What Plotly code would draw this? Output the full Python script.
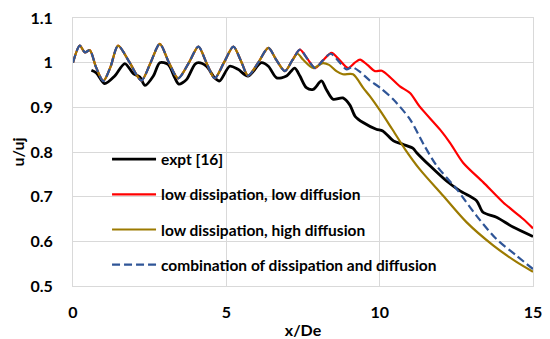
import plotly.graph_objects as go

# shared simulation part (all three simulations coincide up to x~7.3)
x_shared = [0, 0.22, 0.39, 0.55, 0.75, 0.99, 1.22, 1.47, 1.85, 2.23, 2.53, 2.83, 3.13, 3.43,
            3.78, 4.09, 4.35, 4.62, 4.92, 5.23, 5.47, 5.71, 6.04, 6.37, 6.64, 6.91, 7.15]
y_shared = [1.0, 1.038, 1.023, 1.028, 0.99, 0.959, 0.99, 1.038, 1.0, 0.96, 1.0, 1.042, 1.0, 0.965,
            1.0, 1.036, 1.0, 0.965, 1.0, 1.036, 1.005, 0.971, 1.0, 1.033, 1.005, 0.981, 1.005]

x_red_tail = [7.40, 7.65, 7.89, 8.15, 8.43, 8.7, 8.97, 9.19, 9.36, 9.6, 9.85, 10.07, 10.3, 10.66,
              10.99, 11.3, 11.97, 12.3, 12.72, 13.38, 14.03, 14.68, 15.0]
y_red_tail = [1.029, 1.008, 0.988, 1.005, 1.022, 1.005, 0.988, 1.0, 1.007, 0.995, 0.981, 0.982, 0.97, 0.947,
              0.932, 0.902, 0.85, 0.82, 0.776, 0.732, 0.687, 0.650, 0.629]

x_gold_tail = [7.32, 7.5, 7.83, 8.15, 8.35, 8.59, 8.8, 9.13, 9.47, 9.68, 10.01, 10.4, 10.83,
               11.31, 12.07, 12.83, 13.7, 14.46, 15.0]
y_gold_tail = [1.02, 1.007, 0.988, 0.999, 0.995, 0.981, 0.974, 0.974, 0.943, 0.925, 0.893, 0.852, 0.806,
               0.761, 0.702, 0.643, 0.591, 0.554, 0.532]

x_blue_tail = [7.40, 7.65, 7.89, 8.15, 8.40, 8.7, 8.92, 9.1, 9.35, 9.68, 10.01, 10.44, 10.99,
               11.45, 11.86, 12.51, 13.16, 13.81, 14.46, 15.0]
y_blue_tail = [1.029, 1.008, 0.988, 1.005, 1.02, 1.0, 0.985, 0.99, 0.98, 0.96, 0.944, 0.918, 0.873,
               0.815, 0.769, 0.717, 0.657, 0.605, 0.568, 0.538]

x_expt = [0.6, 0.76, 1.03, 1.36, 1.69, 1.96, 2.18, 2.35, 2.62, 2.83, 3.1, 3.32, 3.45, 3.7, 3.97,
          4.09, 4.35, 4.62, 4.78, 5.11, 5.38, 5.71, 6.14, 6.37, 6.64, 6.96, 7.23, 7.4, 7.61, 7.83,
          8.1, 8.26, 8.48, 8.8, 9.03, 9.2, 9.46, 9.89, 10.1, 10.45, 10.76, 11.09, 11.2, 11.64,
          12.18, 12.62, 13.16, 13.37, 13.81, 14.35, 15.0]
y_expt = [0.983, 0.977, 0.953, 0.97, 0.998, 0.976, 0.968, 0.949, 0.97, 1.0, 0.996, 0.966, 0.952, 0.962, 0.996,
          1.0, 0.992, 0.966, 0.959, 0.992, 0.985, 0.970, 1.0, 0.992, 0.966, 0.97, 0.988, 0.970, 0.944, 0.94,
          0.959, 0.94, 0.918, 0.921, 0.905, 0.88, 0.866, 0.851, 0.847, 0.825, 0.817, 0.808, 0.799, 0.769,
          0.735, 0.713, 0.691, 0.665, 0.654, 0.632, 0.611]

names = ["expt [16]", "low dissipation, low diffusion", "low dissipation, high diffusion",
         "combination of dissipation and diffusion"]
colors = ["#000000", "#FF0000", "#9C7A00", "#2F5597"]

x_ticks = [0, 5, 10, 15]

series = [
    (x_expt, y_expt),
    (x_shared + x_red_tail, y_shared + y_red_tail),
    (x_shared + x_gold_tail, y_shared + y_gold_tail),
    (x_shared + x_blue_tail, y_shared + y_blue_tail),
]
widths = [2.8, 2.2, 2.2, 2.2]
dashes = ["solid", "solid", "solid", "8px,4px"]

fig = go.Figure()
for i, (xs, ys) in enumerate(series):
    fig.add_trace(go.Scatter(
        x=xs, y=ys, mode="lines", name=names[i], legendgroup=str(i),
        line=dict(color=colors[i], width=widths[i], dash=dashes[i], shape="spline", smoothing=0.8),
    ))

font_family = "Lato, Open Sans, sans-serif"
# the page body adds an 8px margin, so the figure is sized 8px smaller
fig.update_layout(
    width=542, height=331,
    margin=dict(l=65, r=17, t=10, b=53),
    paper_bgcolor="white", plot_bgcolor="white",
    font=dict(family=font_family, color="#262626"),
    showlegend=True,
    legend=dict(
        x=0.074, y=0.535, xanchor="left", yanchor="top", itemwidth=44,
        bgcolor="rgba(0,0,0,0)", traceorder="grouped", tracegroupgap=12,
        font=dict(family=font_family, size=15.5, weight="bold", color="#000000"),
    ),
    xaxis=dict(
        range=[0, 15], tickvals=x_ticks, showgrid=True, gridcolor="#d9d9d9", gridwidth=1,
        zeroline=False, showline=True, linecolor="#d9d9d9", mirror=True, automargin=False,
        ticklabeloverflow="allow",
        tickfont=dict(size=16, weight="bold", color="#000000"), ticklabelstandoff=12,
        title=dict(text="x/De", font=dict(size=16, weight="bold", color="#000000"), standoff=4),
    ),
    yaxis=dict(
        range=[0.5, 1.1], dtick=0.1, showgrid=True, gridcolor="#d9d9d9", gridwidth=1,
        zeroline=False, showline=True, linecolor="#d9d9d9", mirror=True, automargin=False,
        ticklabeloverflow="allow",
        tickfont=dict(size=16, weight="bold", color="#000000"), ticklabelstandoff=16,
        title=dict(text="u/uj", font=dict(size=16, weight="bold", color="#000000"), standoff=12),
    ),
)

fig.write_html("out.html")
